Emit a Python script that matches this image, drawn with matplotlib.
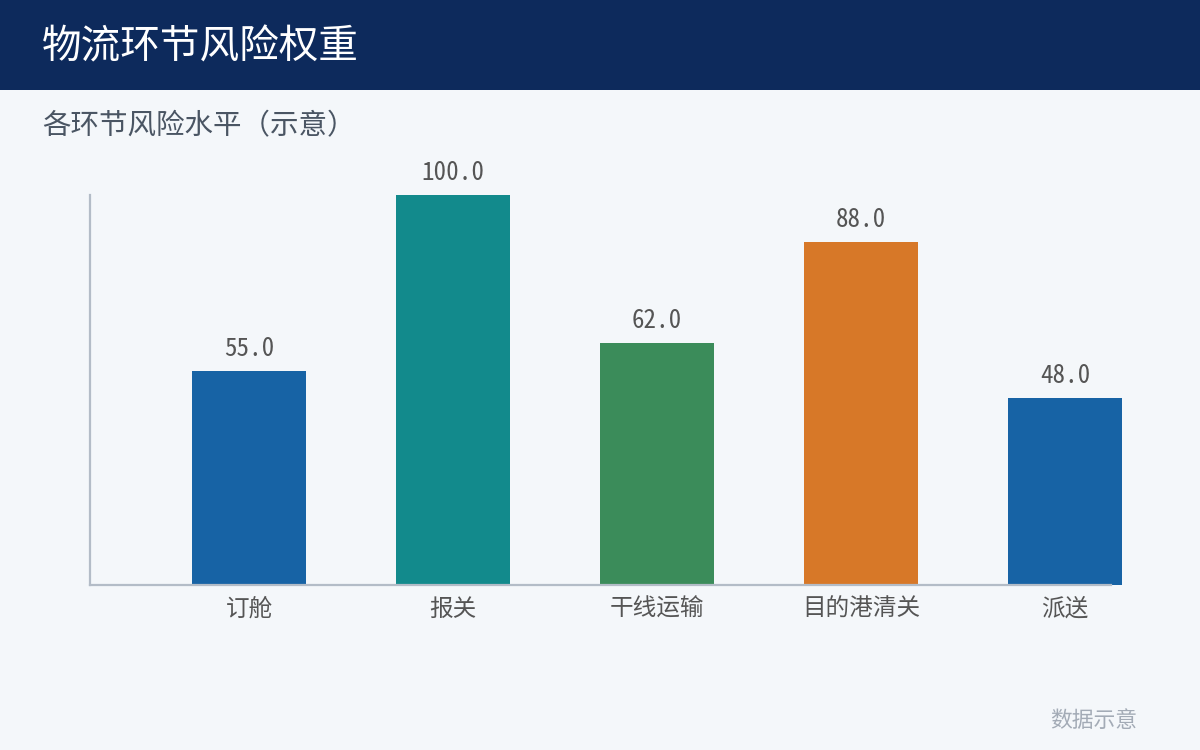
import matplotlib.pyplot as plt
from matplotlib.patches import Rectangle

plt.rcParams['font.family'] = ['Noto Sans CJK SC', 'DejaVu Sans']

stages = ["订舱", "报关", "干线运输", "目的港清关", "派送"]
risk = [55.0, 100.0, 62.0, 88.0, 48.0]
colors = ["#1763a5", "#128a8c", "#3b8c5a", "#d77828", "#1763a5"]

title = "物流环节风险权重"
subtitle = "各环节风险水平（示意）"
footer = "数据示意"

fig = plt.figure(figsize=(12, 7.5), dpi=100)
fig.patch.set_facecolor("#f4f7fa")

# header band
fig.patches.append(
    Rectangle((0, 1 - 90 / 750), 1, 90 / 750,
              transform=fig.transFigure, facecolor="#0d2a5c",
              edgecolor="none", zorder=0)
)
fig.text(42 / 1200, 1 - 47 / 750, title, color="white",
         fontsize=28.5, va="center", ha="left")
fig.text(42 / 1200, 1 - 126 / 750, subtitle, color="#4a5563",
         fontsize=20.5, va="center", ha="left")
fig.text(1137 / 1200, 1 - 721 / 750, footer, color="#a3abb6",
         fontsize=15.7, va="center", ha="right")

ax = fig.add_axes([90 / 1200, 1 - 585 / 750, 1021 / 1200, 390 / 750])
ax.set_facecolor("none")

x = list(range(len(stages)))
bars = ax.bar(x, risk, width=0.56, color=colors, zorder=2)
for b in bars:
    b.set_clip_on(False)

for xi, v in zip(x, risk):
    ax.annotate(f"{v:.1f}", (xi, v), xytext=(0, 7),
                textcoords="offset points", ha="center", va="bottom",
                fontsize=18, color="#555555", annotation_clip=False,
                family=['Noto Sans Mono CJK SC', 'Noto Sans CJK SC',
                        'DejaVu Sans'])

ax.set_xlim(-0.78, 4.225)
ax.set_ylim(0, 100)
ax.set_xticks(x)
ax.set_xticklabels(stages, fontsize=17, color="#555555")
ax.tick_params(axis="x", length=0, pad=9)
ax.set_yticks([])

for side in ["top", "right"]:
    ax.spines[side].set_visible(False)
for side in ["left", "bottom"]:
    ax.spines[side].set_color("#b3bcc7")
    ax.spines[side].set_linewidth(1.6)

plt.savefig("out.png", dpi=100, facecolor=fig.get_facecolor())
plt.close()
